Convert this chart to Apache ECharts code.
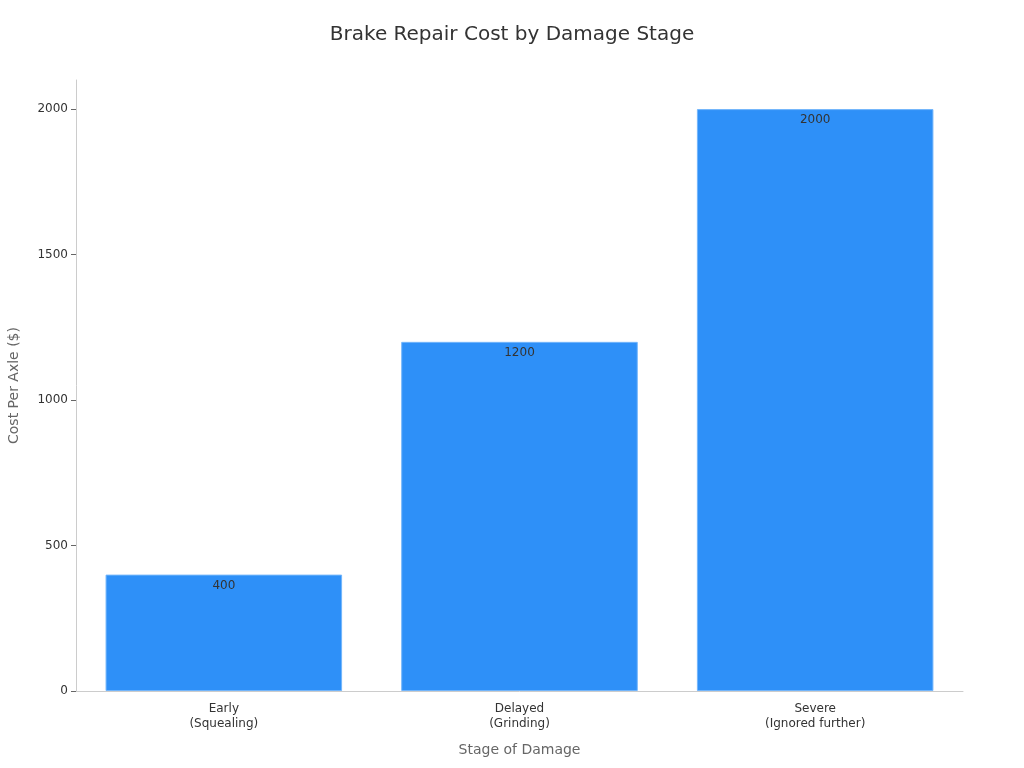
<!DOCTYPE html>
<html>
<head>
<meta charset="utf-8">
<script src="https://cdn.jsdelivr.net/npm/echarts@6/dist/echarts.min.js"></script>
<style>html,body{margin:0;padding:0;background:#fff;}#c{width:1024px;height:768px;}</style>
</head>
<body>
<div id="c"></div>
<script>
const categories = ['Early\n(Squealing)', 'Delayed\n(Grinding)', 'Severe\n(Ignored further)'];
const costs = [400, 1200, 2000];
const yTicks = [0, 500, 1000, 1500, 2000];

const chart = echarts.init(document.getElementById('c'));
chart.setOption({
  animation: false,
  textStyle: { fontFamily: 'DejaVu Sans' },
  title: {
    text: 'Brake Repair Cost by Damage Stage',
    left: 'center', top: 20,
    textStyle: { fontSize: 20, fontWeight: 'normal', color: '#333', fontFamily: 'DejaVu Sans' }
  },
  grid: { left: 76, right: 61, top: 80, bottom: 77, containLabel: false, outerBoundsMode: 'none' },
  xAxis: {
    type: 'category',
    data: categories,
    name: 'Stage of Damage',
    nameLocation: 'middle',
    nameGap: 52,
    nameTextStyle: { fontSize: 14, color: '#666' },
    axisLine: { lineStyle: { color: '#ccc' } },
    axisTick: { alignWithLabel: true, length: 5, lineStyle: { color: '#666' } },
    axisLabel: { fontSize: 12, color: '#333', lineHeight: 15, margin: 10 }
  },
  yAxis: {
    type: 'value',
    min: 0, max: 2100,
    name: 'Cost Per Axle ($)',
    nameLocation: 'middle',
    nameGap: 55,
    nameTextStyle: { fontSize: 14, color: '#666' },
    splitLine: { show: false },
    axisLine: { show: true, lineStyle: { color: '#ccc' } },
    axisTick: { show: true, length: 5, customValues: yTicks, lineStyle: { color: '#666' } },
    axisLabel: { fontSize: 12, color: '#333', customValues: yTicks, margin: 8, formatter: v => String(v) }
  },
  series: [{
    type: 'bar',
    data: costs,
    barCategoryGap: '20%',
    itemStyle: { color: '#2e90f8', borderColor: '#72b5fb', borderWidth: 1 },
    label: { show: true, position: 'insideTop', distance: 5, fontSize: 12, color: '#333' }
  }]
});
</script>
</body>
</html>
